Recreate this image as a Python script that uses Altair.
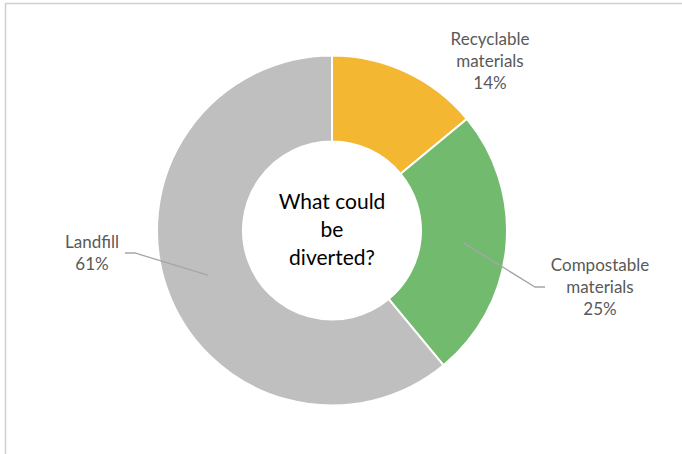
import math
import altair as alt
import pandas as pd

# ---- data ----
categories = ["Recyclable materials", "Compostable materials", "Landfill"]
shares = [14, 25, 61]
colors = ["#F3B731", "#72BB6E", "#BFBFBF"]
center_lines = ["What could", "be", "diverted?"]

# ---- layout (positions / sizes) ----
W, H = 682, 454
CX, CY = 332, 230.5
R_OUT, R_IN = 175, 89
R_MID = (R_OUT + R_IN) / 2
# position of the first line of each label
label_pos = {
    "Recyclable materials": (490, 40),
    "Compostable materials": (600, 266),
    "Landfill": (92, 243),
}
leader_pts = {
    "Compostable materials": [(535, 287), (545, 287)],
    "Landfill": [(135, 253), (125, 253)],
}
FONT = "Lato"

df = pd.DataFrame({"category": categories, "share": shares, "order": range(len(categories))})

total = sum(shares)
lab_rows = []
line_rows = []
cum = 0
for c, s in zip(categories, shares):
    mid = (cum + s / 2) / total * 2 * math.pi
    cum += s
    lx, ly = label_pos[c]
    lab_rows.append({"category": c, "label": c.replace(" ", "\n") + "\n" + f"{s}%", "px": lx, "py": ly})
    if c in leader_pts:
        sx = CX + R_MID * math.sin(mid)
        sy = CY - R_MID * math.cos(mid)
        pts = [(sx, sy)] + leader_pts[c]
        for i, (x, y) in enumerate(pts):
            line_rows.append({"category": c, "seq": i, "px": x, "py": y})
lab_df = pd.DataFrame(lab_rows)
line_df = pd.DataFrame(line_rows)

border = alt.Chart(alt.Data(values=[{}])).mark_rect(
    fill="white", stroke="#D0D0D0", strokeWidth=1.5
).encode(x=alt.value(5.5), x2=alt.value(W + 50), y=alt.value(3.5), y2=alt.value(H + 50))

arc = alt.Chart(df).mark_arc(innerRadius=R_IN, outerRadius=R_OUT, stroke="white", strokeWidth=2).encode(
    theta=alt.Theta("share:Q", stack=True),
    color=alt.Color("category:N", scale=alt.Scale(domain=categories, range=colors), legend=None),
    order=alt.Order("order:Q"),
    x=alt.value(CX),
    y=alt.value(CY),
)

lines = alt.Chart(line_df).mark_line(color="#A6A6A6", strokeWidth=1.3).encode(
    x=alt.X("px:Q", scale=None, axis=None),
    y=alt.Y("py:Q", scale=None, axis=None),
    detail="category:N",
    order="seq:Q",
)

labels = alt.Chart(lab_df).mark_text(
    font=FONT, fontSize=17, color="#595959", lineBreak="\n", lineHeight=22,
    align="center", baseline="middle",
).encode(
    x=alt.X("px:Q", scale=None, axis=None),
    y=alt.Y("py:Q", scale=None, axis=None),
    text="label:N",
)

center = alt.Chart(alt.Data(values=[{"t": "\n".join(center_lines)}])).mark_text(
    font=FONT, fontSize=21, color="#000000", lineBreak="\n", lineHeight=28,
    align="center", baseline="middle",
).encode(x=alt.value(CX), y=alt.value(203), text="t:N")

chart = alt.layer(border, arc, lines, labels, center).properties(
    width=W, height=H, padding=0, autosize=alt.AutoSizeParams(type="none")
).configure_view(strokeWidth=0)

chart.save("out.html", embed_options={"renderer": "svg", "actions": False})
